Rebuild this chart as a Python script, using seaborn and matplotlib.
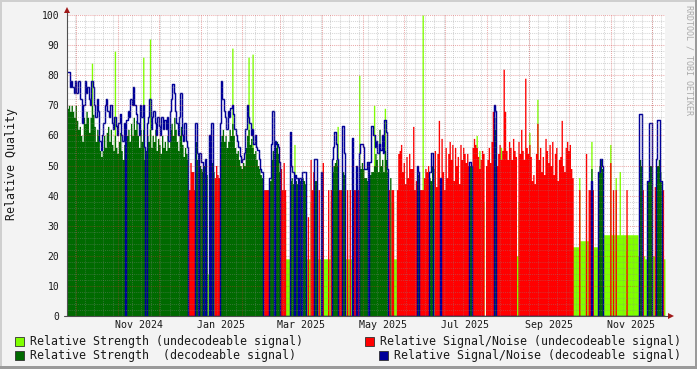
import numpy as np
import pandas as pd
import matplotlib
matplotlib.use("Agg")
import matplotlib.pyplot as plt
from matplotlib.patches import Rectangle
import seaborn as sns

# ---------------- data (one value per day) ----------------
start_date = "2024-09-24"

# alternating run lengths: decodeable days, undecodeable days, decodeable, ...
decode_runs = [90, 5, 9, 1, 4, 4, 32, 5, 3, 1, 4, 7, 3, 1, 4, 1, 3, 6, 2, 3, 1, 7,
               5, 3, 2, 5, 1, 2, 1, 1, 22, 1, 1, 19, 2, 7, 4, 4, 1, 21, 2, 16, 2,
               70, 1, 4, 4, 27, 2, 4, 3, 3, 5, 2]

strength = [
    69, 70, 68, 70, 68, 66, 70, 65, 62, 63,
    60, 58, 66, 64, 68, 66, 61, 66, 70, 67,
    63, 58, 62, 60, 55, 53, 55, 60, 56, 61,
    63, 58, 62, 57, 55, 60, 56, 54, 58, 61,
    55, 52, 57, 56, 60, 62, 58, 64, 60, 66,
    62, 65, 60, 56, 62, 58, 62, 52, 55, 60,
    58, 62, 56, 60, 58, 62, 55, 59, 57, 54,
    60, 56, 58, 55, 60, 56, 62, 64, 60, 66,
    62, 58, 55, 60, 63, 57, 53, 56, 54, 52,
    38, 40, 40, 40, 38, 58, 52, 50, 50, 49,
    48, 50, 49, 47, 14, 46, 48, 51, 48, 40,
    40, 40, 40, 58, 60, 62, 58, 60, 56, 58,
    62, 60, 64, 60, 56, 54, 55, 52, 50, 49,
    51, 50, 56, 60, 62, 57, 59, 56, 54, 55,
    52, 50, 49, 47, 46, 38, 38, 38, 38, 38,
    45, 52, 55, 40, 56, 58, 54, 48, 38, 38,
    38, 38, 19, 19, 19, 45, 46, 44, 57, 45,
    44, 46, 45, 38, 46, 45, 44, 19, 19, 19,
    38, 38, 38, 45, 45, 19, 19, 19, 44, 38,
    19, 19, 19, 19, 19, 38, 48, 50, 51, 52,
    50, 38, 38, 38, 48, 47, 19, 19, 19, 19,
    19, 42, 38, 38, 44, 38, 50, 49, 51, 49,
    46, 46, 45, 46, 47, 48, 48, 50, 54, 52,
    48, 62, 50, 52, 48, 55, 52, 48, 38, 46,
    38, 38, 19, 19, 38, 38, 38, 38, 38, 38,
    38, 38, 38, 38, 38, 38, 38, 38, 38, 48,
    47, 38, 38, 100, 38, 38, 38, 38, 46, 45,
    50, 49, 38, 38, 38, 38, 46, 38, 38, 38,
    38, 38, 38, 38, 38, 38, 38, 38, 38, 38,
    38, 38, 38, 38, 38, 38, 38, 38, 50, 50,
    38, 38, 38, 60, 38, 55, 38, 38, 38, 0,
    38, 38, 38, 38, 38, 38, 66, 62, 38, 38,
    38, 56, 38, 38, 38, 38, 38, 38, 38, 38,
    38, 38, 38, 20, 38, 38, 38, 38, 38, 38,
    38, 38, 61, 38, 38, 38, 38, 38, 72, 38,
    38, 38, 38, 38, 38, 38, 38, 38, 38, 38,
    38, 38, 38, 38, 38, 38, 38, 38, 38, 38,
    38, 38, 38, 38, 23, 23, 23, 23, 23, 46,
    25, 25, 25, 25, 25, 25, 25, 25, 49, 23,
    23, 23, 23, 48, 50, 52, 49, 27, 27, 27,
    27, 27, 57, 27, 27, 27, 46, 27, 27, 48,
    27, 27, 27, 27, 27, 27, 27, 27, 27, 27,
    27, 27, 27, 20, 52, 50, 20, 20, 19, 19,
    45, 50, 50, 20, 20, 20, 50, 50, 52, 48,
    45, 19, 19,
]

signal_noise = [
    81, 81, 76, 78, 76, 74, 78, 74, 78, 78,
    72, 64, 70, 78, 74, 76, 72, 70, 78, 76,
    70, 66, 72, 68, 58, 55, 60, 64, 70, 72,
    68, 66, 70, 64, 62, 66, 63, 60, 64, 67,
    60, 58, 64, 0, 65, 68, 66, 72, 70, 76,
    70, 67, 64, 60, 70, 66, 70, 56, 0, 64,
    66, 72, 62, 66, 68, 64, 60, 66, 63, 60,
    66, 62, 65, 62, 66, 58, 68, 72, 77, 74,
    68, 64, 60, 66, 74, 60, 58, 64, 58, 56,
    42, 51, 48, 48, 42, 64, 54, 0, 54, 51,
    51, 0, 52, 0, 0, 60, 0, 64, 0, 46,
    50, 47, 46, 64, 78, 72, 68, 66, 62, 68,
    66, 69, 70, 67, 62, 60, 58, 56, 53, 51,
    52, 54, 62, 70, 66, 64, 60, 62, 57, 60,
    56, 55, 52, 49, 48, 42, 42, 42, 42, 42,
    46, 57, 68, 57, 58, 57, 56, 51, 49, 42,
    51, 42, 0, 0, 0, 61, 50, 48, 0, 47,
    46, 0, 46, 44, 48, 48, 48, 0, 33, 0,
    52, 42, 48, 52, 52, 0, 42, 0, 48, 51,
    0, 0, 0, 42, 0, 42, 52, 56, 61, 57,
    52, 42, 42, 42, 63, 54, 0, 42, 0, 42,
    0, 59, 42, 42, 50, 42, 54, 57, 57, 56,
    49, 49, 51, 0, 51, 63, 63, 60, 56, 58,
    54, 57, 55, 60, 54, 65, 61, 49, 42, 0,
    42, 42, 0, 0, 42, 54, 55, 57, 48, 51,
    44, 53, 46, 54, 49, 49, 63, 42, 45, 50,
    48, 42, 42, 42, 46, 49, 48, 50, 48, 48,
    54, 0, 55, 43, 54, 65, 46, 59, 48, 42,
    56, 46, 54, 58, 52, 57, 45, 56, 50, 53,
    44, 57, 52, 56, 54, 51, 54, 50, 51, 50,
    56, 59, 57, 56, 53, 49, 52, 55, 54, 0,
    50, 52, 56, 51, 58, 68, 70, 68, 50, 54,
    57, 52, 55, 82, 68, 55, 52, 58, 56, 52,
    59, 55, 53, 0, 58, 54, 62, 55, 52, 79,
    56, 54, 57, 53, 45, 47, 44, 54, 64, 52,
    56, 48, 53, 47, 59, 55, 51, 57, 50, 58,
    47, 54, 56, 45, 52, 53, 65, 50, 48, 56,
    58, 55, 57, 49, 46, 0, 0, 0, 0, 42,
    0, 0, 0, 0, 54, 0, 42, 42, 45, 42,
    0, 0, 0, 48, 48, 52, 50, 0, 0, 0,
    0, 0, 51, 0, 42, 0, 42, 0, 0, 0,
    0, 0, 0, 0, 42, 0, 0, 0, 0, 0,
    0, 0, 0, 0, 67, 67, 42, 0, 0, 0,
    45, 64, 64, 0, 0, 43, 52, 65, 65, 45,
    45, 42, 0,
]

# short undecodeable-strength peaks on otherwise decodeable days
spike_day = [18, 35, 56, 61, 122, 134, 137, 200, 216, 227, 235, 388]
spike_value = [84, 88, 86, 92, 89, 86, 87, 63, 80, 70, 69, 58]

xtick_labels = ["Nov 2024", "Jan 2025", "Mar 2025", "May 2025",
                "Jul 2025", "Sep 2025", "Nov 2025"]
legend_labels = ["Relative Strength (undecodeable signal)",
                 "Relative Strength  (decodeable signal)",
                 "Relative Signal/Noise (undecodeable signal)",
                 "Relative Signal/Noise (decodeable signal)"]

# ---------------- styling ----------------
LIGHT_GREEN = "#80FF00"
DARK_GREEN = "#006A00"
RED = "#FF0000"
BLUE = "#000099"

sns.set_style("white")
plt.rcParams["font.family"] = ["DejaVu Sans Mono"]

n = len(strength)
decodeable = np.concatenate([np.full(r, i % 2 == 0) for i, r in enumerate(decode_runs)])[:n]
s = np.array(strength, float)
q = np.array(signal_noise, float)

s_undec = np.where(~decodeable, s, 0.0)
for d, v in zip(spike_day, spike_value):
    s_undec[d] = max(s_undec[d], v)
s_dec = np.where(decodeable, s, 0.0)
q_undec = np.where(~decodeable, q, 0.0)
q_dec = np.where(decodeable, q, 0.0)

edges = pd.date_range(start_date, periods=n + 1, freq="D")


def ext(a):
    return np.append(a, a[-1])


W, H = 697, 369
fig = plt.figure(figsize=(W / 100, H / 100), dpi=100, facecolor="#F3F3F3")
ax = fig.add_axes([67 / W, (H - 316) / H, 598 / W, 301 / H])
ax.set_facecolor("white")

ax.fill_between(edges, ext(s_undec), step="post", color=LIGHT_GREEN, lw=0, zorder=2.0)
ax.fill_between(edges, ext(s_dec), step="post", color=DARK_GREEN, lw=0, zorder=2.05)
ax.fill_between(edges, ext(q_undec), step="post", color=RED, lw=0, zorder=2.1)
line_df = pd.DataFrame({"date": edges, "value": ext(q_dec)})
sns.lineplot(data=line_df, x="date", y="value", drawstyle="steps-post", color=BLUE,
             lw=1.05, ax=ax, zorder=2.2, estimator=None)

ax.set_xlim(edges[0], edges[-1])
ax.set_ylim(0, 100)
ax.set_xlabel("")
ax.set_ylabel("")

# grid
ax.set_axisbelow(False)
ax.set_yticks(range(0, 101, 10))
ax.set_yticks(range(0, 101, 2), minor=True)
label_dates = pd.to_datetime(xtick_labels, format="%b %Y") + pd.Timedelta(days=15)
ax.set_xticks(label_dates)
ax.set_xticklabels(xtick_labels)
weeks = pd.date_range(edges[0], edges[-1], freq="W-MON")
ax.set_xticks(weeks, minor=True)
dots = (0, (1, 1))
ax.grid(which="minor", axis="both", color="#8A8A8A", alpha=0.35, ls=dots, lw=0.75)
ax.grid(which="major", axis="y", color="#D03030", alpha=0.4, ls=dots, lw=0.75)
ax.grid(which="major", axis="x", visible=False)
for m in pd.date_range(edges[0], edges[-1], freq="MS"):
    ax.axvline(m, color="#D03030", alpha=0.4, ls=dots, lw=0.75, zorder=2.6)

ax.tick_params(axis="y", which="both", length=0, pad=5.6, labelsize=7.0, labelcolor="#1A1A1A")
ax.tick_params(axis="x", which="both", length=0, pad=3.0, labelsize=7.2, labelcolor="#1A1A1A")
for sp in ax.spines.values():
    sp.set_visible(False)

# axis lines with arrows
ax.plot([0, 0], [0, 1.012], transform=ax.transAxes, color="#505050", lw=0.8,
        clip_on=False, zorder=10)
ax.plot([-3 / 598, 1.006], [0, 0], transform=ax.transAxes, color="#505050", lw=0.8,
        clip_on=False, zorder=10)
ax.plot([0], [1.0165], transform=ax.transAxes, marker="^", ms=4.5, color="#A01818",
        clip_on=False, zorder=11, mew=0)
ax.plot([1.0105], [0], transform=ax.transAxes, marker=">", ms=4.5, color="#A01818",
        clip_on=False, zorder=11, mew=0)

# y label and watermark
fig.text(12 / W, 1 - 164 / H, "Relative Quality", rotation=90, ha="center", va="center",
         fontsize=8.4, color="#1A1A1A")
fig.text(689 / W, 1 - 5 / H, "RRDTOOL / TOBI OETIKER", rotation=270, ha="center",
         va="top", fontsize=6.0, color="#AAAAAA")

# legend
legend_colors = [LIGHT_GREEN, DARK_GREEN, RED, BLUE]
legend_pos = [(15, 341), (15, 355), (365, 341), (379, 355)]
for lab, col, (bx, cy) in zip(legend_labels, legend_colors, legend_pos):
    fig.add_artist(Rectangle((bx / W, 1 - (cy + 4.5) / H), 9 / W, 9 / H,
                             transform=fig.transFigure, facecolor=col,
                             edgecolor="#303030", lw=0.6))
    fig.text((bx + 15) / W, 1 - cy / H, lab, ha="left", va="center", fontsize=8.42,
             color="#1A1A1A")

# frame shading
fig.add_artist(Rectangle((0, 1 - 2 / H), 1, 2 / H, transform=fig.transFigure,
                         facecolor="#CFCFCF", lw=0))
fig.add_artist(Rectangle((0, 0), 2 / W, 1, transform=fig.transFigure,
                         facecolor="#CFCFCF", lw=0))
fig.add_artist(Rectangle((0, 0), 1, 3 / H, transform=fig.transFigure,
                         facecolor="#9A9A9A", lw=0))
fig.add_artist(Rectangle((1 - 2 / W, 0), 2 / W, 1, transform=fig.transFigure,
                         facecolor="#9A9A9A", lw=0))

fig.savefig("out.png", dpi=100, facecolor=fig.get_facecolor())
